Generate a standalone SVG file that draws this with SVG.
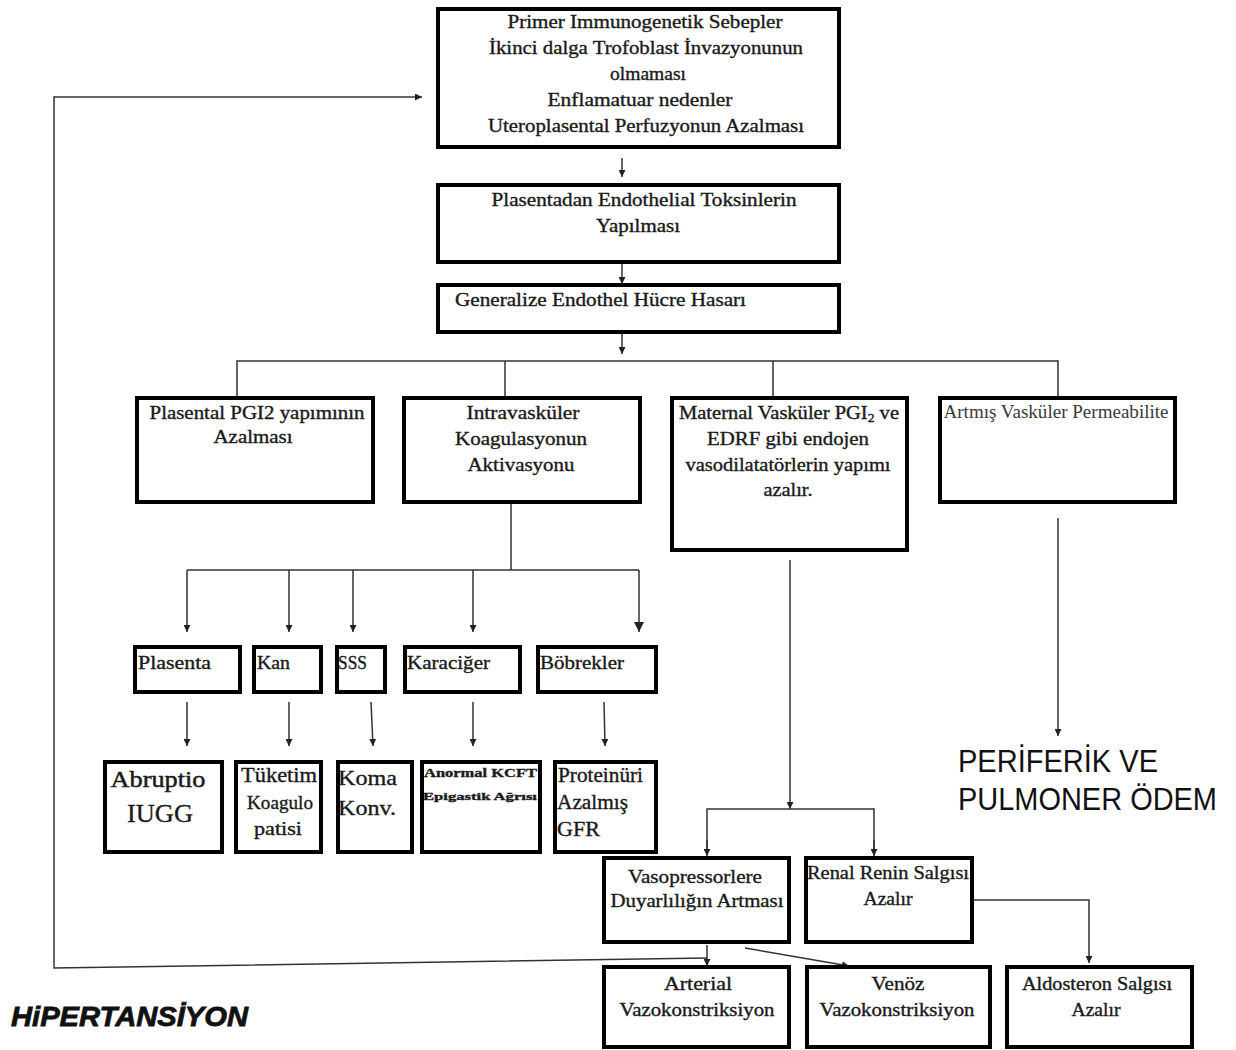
<svg xmlns="http://www.w3.org/2000/svg" width="1236" height="1050" viewBox="0 0 1236 1050">
<style>
.box{fill:#fff;stroke:#000;stroke-width:4}
.t{font-family:"Liberation Serif",serif;font-size:18px;fill:#1a1a1a;stroke:#1a1a1a;stroke-width:0.35;text-anchor:middle}
.tl{font-family:"Liberation Serif",serif;font-size:18px;fill:#1a1a1a;stroke:#1a1a1a;stroke-width:0.35}
.c{fill:none;stroke:#333;stroke-width:1.5}
.big{font-family:"Liberation Sans",Arial,sans-serif;font-size:31px;fill:#111}
</style>
<defs>
<marker id="ah" viewBox="0 0 10 10" refX="10" refY="5" markerWidth="7" markerHeight="7" markerUnits="userSpaceOnUse" orient="auto"><path d="M0,0L10,5L0,10z" fill="#222"/></marker>
<marker id="ahb" viewBox="0 0 10 10" refX="10" refY="5" markerWidth="12" markerHeight="10" markerUnits="userSpaceOnUse" orient="auto"><path d="M0,0L10,5L0,10z" fill="#222"/></marker>
</defs>

<g id="connectors">
<line class="c" x1="622" y1="158" x2="622" y2="177" marker-end="url(#ah)"/>
<line class="c" x1="622" y1="262" x2="622" y2="284" marker-end="url(#ah)"/>
<line class="c" x1="622" y1="333" x2="622" y2="354" marker-end="url(#ah)"/>
<polyline class="c" points="237,398 237,361 1058,361 1058,398"/>
<line class="c" x1="505" y1="361" x2="505" y2="398"/>
<line class="c" x1="773" y1="361" x2="773" y2="398"/>
<polyline class="c" points="511,502 511,570"/>
<line class="c" x1="187" y1="570" x2="639" y2="570"/>
<line class="c" x1="187" y1="570" x2="187" y2="632" marker-end="url(#ah)"/>
<line class="c" x1="289" y1="570" x2="289" y2="632" marker-end="url(#ah)"/>
<line class="c" x1="353" y1="570" x2="353" y2="632" marker-end="url(#ah)"/>
<line class="c" x1="473" y1="570" x2="473" y2="632" marker-end="url(#ah)"/>
<line class="c" x1="639" y1="570" x2="639" y2="632" marker-end="url(#ahb)"/>
<line class="c" x1="187" y1="702" x2="187" y2="746" marker-end="url(#ah)"/>
<line class="c" x1="289" y1="702" x2="289" y2="746" marker-end="url(#ah)"/>
<line class="c" x1="371" y1="702" x2="373" y2="746" marker-end="url(#ah)"/>
<line class="c" x1="473" y1="702" x2="473" y2="746" marker-end="url(#ah)"/>
<line class="c" x1="604" y1="702" x2="605" y2="746" marker-end="url(#ah)"/>
<line class="c" x1="790" y1="560" x2="790" y2="809" marker-end="url(#ah)"/>
<polyline class="c" points="707,852 707,809 874,809 874,852" />
<line class="c" x1="707" y1="840" x2="707" y2="856" marker-end="url(#ah)"/>
<line class="c" x1="874" y1="840" x2="874" y2="856" marker-end="url(#ah)"/>
<polyline class="c" points="973,900 1089,900 1089,963" marker-end="url(#ah)"/>
<line class="c" x1="707" y1="945" x2="707" y2="966" marker-end="url(#ah)"/>
<line class="c" x1="745" y1="948" x2="849" y2="966" marker-end="url(#ah)"/>
<polyline class="c" points="707,958 54,968 54,97 422,97" marker-end="url(#ah)"/>
<line class="c" x1="1058" y1="518" x2="1058" y2="736" marker-end="url(#ah)"/>
</g>

<g id="n-top">
<rect class="box" x="438" y="9" width="401" height="138"/>
<text class="t" x="645" y="28" textLength="275" lengthAdjust="spacingAndGlyphs">Primer Immunogenetik Sebepler</text>
<text class="t" x="646" y="54" textLength="314" lengthAdjust="spacingAndGlyphs">İkinci dalga Trofoblast İnvazyonunun</text>
<text class="t" x="648" y="80" textLength="76" lengthAdjust="spacingAndGlyphs">olmaması</text>
<text class="t" x="640" y="106" textLength="185" lengthAdjust="spacingAndGlyphs">Enflamatuar nedenler</text>
<text class="t" x="646" y="132" textLength="316" lengthAdjust="spacingAndGlyphs">Uteroplasental Perfuzyonun Azalması</text>
</g>

<g id="n-toksin">
<rect class="box" x="438" y="185" width="401" height="77"/>
<text class="t" x="644" y="206" textLength="305" lengthAdjust="spacingAndGlyphs">Plasentadan Endothelial Toksinlerin</text>
<text class="t" x="638" y="232" textLength="84" lengthAdjust="spacingAndGlyphs">Yapılması</text>
</g>

<g id="n-hasar">
<rect class="box" x="438" y="285" width="401" height="47"/>
<text class="tl" x="455" y="306" textLength="291" lengthAdjust="spacingAndGlyphs">Generalize Endothel Hücre Hasarı</text>
</g>

<g id="n-pgi2">
<rect class="box" x="137" y="398" width="236" height="104"/>
<text class="t" x="257" y="419" textLength="215" lengthAdjust="spacingAndGlyphs">Plasental PGI2 yapımının</text>
<text class="t" x="253" y="443" textLength="79" lengthAdjust="spacingAndGlyphs">Azalması</text>
</g>

<g id="n-intra">
<rect class="box" x="404" y="398" width="236" height="104"/>
<text class="t" x="523" y="419" textLength="113" lengthAdjust="spacingAndGlyphs">Intravasküler</text>
<text class="t" x="521" y="445" textLength="132" lengthAdjust="spacingAndGlyphs">Koagulasyonun</text>
<text class="t" x="521" y="471" textLength="107" lengthAdjust="spacingAndGlyphs">Aktivasyonu</text>
</g>

<g id="n-maternal">
<rect class="box" x="672" y="398" width="235" height="152"/>
<text class="t" x="789" y="419" textLength="220" lengthAdjust="spacingAndGlyphs">Maternal Vasküler PGI<tspan font-size="12" dy="3">2</tspan><tspan dy="-3"> ve</tspan></text>
<text class="t" x="788" y="445" textLength="162" lengthAdjust="spacingAndGlyphs">EDRF gibi endojen</text>
<text class="t" x="788" y="471" textLength="205" lengthAdjust="spacingAndGlyphs">vasodilatatörlerin yapımı</text>
<text class="t" x="788" y="496" textLength="49" lengthAdjust="spacingAndGlyphs">azalır.</text>
</g>

<g id="n-artmis">
<rect class="box" x="940" y="398" width="235" height="104"/>
<text class="t" x="1056" y="418" textLength="225" lengthAdjust="spacingAndGlyphs" style="fill:#3a3a3a;stroke:none">Artmış Vasküler Permeabilite</text>
</g>

<g id="n-plasenta">
<rect class="box" x="135" y="647" width="105" height="45"/>
<text class="tl" x="138" y="669" textLength="73" lengthAdjust="spacingAndGlyphs">Plasenta</text>
</g>
<g id="n-kan">
<rect class="box" x="254" y="647" width="67" height="45"/>
<text class="tl" x="257" y="669" textLength="33" lengthAdjust="spacingAndGlyphs">Kan</text>
</g>
<g id="n-sss">
<rect class="box" x="337" y="647" width="48" height="45"/>
<text class="tl" x="338" y="669" textLength="29" lengthAdjust="spacingAndGlyphs">SSS</text>
</g>
<g id="n-karaciger">
<rect class="box" x="405" y="647" width="115" height="45"/>
<text class="tl" x="407" y="669" textLength="83" lengthAdjust="spacingAndGlyphs">Karaciğer</text>
</g>
<g id="n-bobrek">
<rect class="box" x="538" y="647" width="118" height="45"/>
<text class="tl" x="540" y="669" textLength="84" lengthAdjust="spacingAndGlyphs">Böbrekler</text>
</g>

<g id="n-abruptio">
<rect class="box" x="105" y="762" width="117" height="90"/>
<text class="t" x="158" y="787" style="font-size:24px;stroke-width:0.5" textLength="95" lengthAdjust="spacingAndGlyphs">Abruptio</text>
<text class="t" x="160" y="822" style="font-size:26px;stroke-width:0.3" textLength="66" lengthAdjust="spacingAndGlyphs">IUGG</text>
</g>
<g id="n-tuketim">
<rect class="box" x="236" y="762" width="85" height="90"/>
<text class="t" x="279" y="782" style="font-size:20px" textLength="76" lengthAdjust="spacingAndGlyphs">Tüketim</text>
<text class="t" x="280" y="809" textLength="66" lengthAdjust="spacingAndGlyphs">Koagulo</text>
<text class="t" x="278" y="835" textLength="48" lengthAdjust="spacingAndGlyphs">patisi</text>
</g>
<g id="n-koma">
<rect class="box" x="338" y="762" width="74" height="90"/>
<text class="tl" x="338" y="785" style="font-size:22px" textLength="59" lengthAdjust="spacingAndGlyphs">Koma</text>
<text class="tl" x="338" y="815" style="font-size:22px" textLength="58" lengthAdjust="spacingAndGlyphs">Konv.</text>
</g>
<g id="n-anormal">
<rect class="box" x="422" y="762" width="118" height="90"/>
<text class="tl" x="424" y="777" style="font-size:13px;font-weight:bold" textLength="113" lengthAdjust="spacingAndGlyphs">Anormal KCFT</text>
<text class="tl" x="423" y="800" style="font-size:11px;font-weight:bold" textLength="114" lengthAdjust="spacingAndGlyphs">Epigastik Ağrısı</text>
</g>
<g id="n-protein">
<rect class="box" x="555" y="762" width="101" height="90"/>
<text class="tl" x="558" y="782" style="font-size:20px" textLength="85" lengthAdjust="spacingAndGlyphs">Proteinüri</text>
<text class="tl" x="557" y="809" style="font-size:20px" textLength="71" lengthAdjust="spacingAndGlyphs">Azalmış</text>
<text class="tl" x="557" y="836" style="font-size:20px" textLength="43" lengthAdjust="spacingAndGlyphs">GFR</text>
</g>

<g id="n-vaso">
<rect class="box" x="604" y="858" width="185" height="84"/>
<text class="t" x="695" y="883" textLength="134" lengthAdjust="spacingAndGlyphs">Vasopressorlere</text>
<text class="t" x="697" y="907" textLength="173" lengthAdjust="spacingAndGlyphs">Duyarlılığın Artması</text>
</g>
<g id="n-renal">
<rect class="box" x="806" y="858" width="166" height="84"/>
<text class="t" x="888" y="879" textLength="162" lengthAdjust="spacingAndGlyphs">Renal Renin Salgısı</text>
<text class="t" x="888" y="905" textLength="49" lengthAdjust="spacingAndGlyphs">Azalır</text>
</g>
<g id="n-arterial">
<rect class="box" x="604" y="967" width="185" height="80"/>
<text class="t" x="698" y="990" textLength="68" lengthAdjust="spacingAndGlyphs">Arterial</text>
<text class="t" x="697" y="1016" textLength="155" lengthAdjust="spacingAndGlyphs">Vazokonstriksiyon</text>
</g>
<g id="n-venoz">
<rect class="box" x="807" y="967" width="183" height="80"/>
<text class="t" x="898" y="990" textLength="53" lengthAdjust="spacingAndGlyphs">Venöz</text>
<text class="t" x="897" y="1016" textLength="155" lengthAdjust="spacingAndGlyphs">Vazokonstriksiyon</text>
</g>
<g id="n-aldo">
<rect class="box" x="1007" y="967" width="185" height="80"/>
<text class="t" x="1097" y="990" textLength="150" lengthAdjust="spacingAndGlyphs">Aldosteron Salgısı</text>
<text class="t" x="1096" y="1016" textLength="49" lengthAdjust="spacingAndGlyphs">Azalır</text>
</g>

<g id="n-odem">
<text class="big" x="958" y="772" textLength="200" lengthAdjust="spacingAndGlyphs">PERİFERİK VE</text>
<text class="big" x="958" y="810" textLength="259" lengthAdjust="spacingAndGlyphs">PULMONER ÖDEM</text>
</g>
<g id="n-hipertansiyon">
<text x="11" y="1026" style="font-family:'Liberation Sans',Arial,sans-serif;font-size:28px;font-weight:bold;font-style:italic;fill:#111;stroke:#111;stroke-width:0.8" textLength="237" lengthAdjust="spacingAndGlyphs">HiPERTANSİYON</text>
</g>
</svg>
